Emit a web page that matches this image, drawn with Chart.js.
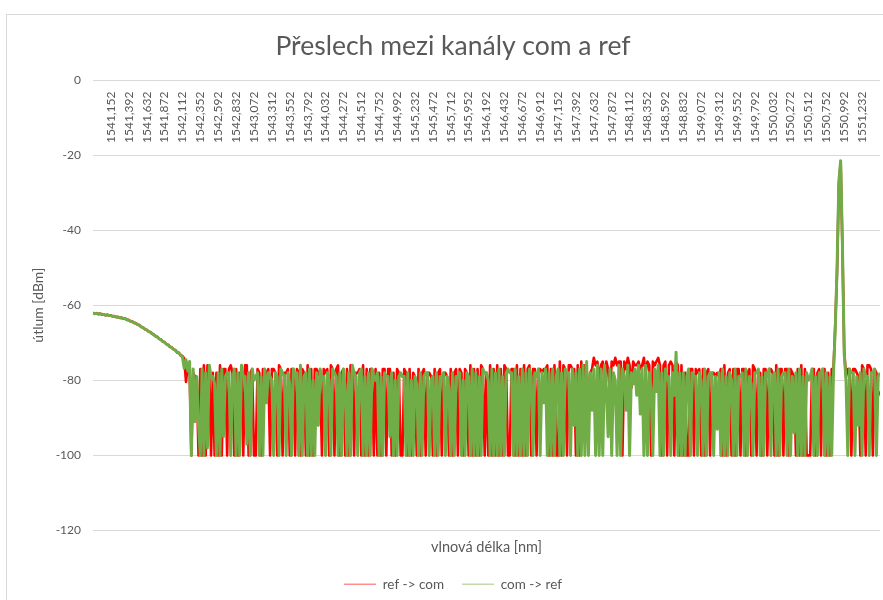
<!DOCTYPE html>
<html>
<head>
<meta charset="utf-8">
<script src="https://cdn.jsdelivr.net/npm/chart.js@4.4.0/dist/chart.umd.min.js"></script>
<style>
html, body { margin: 0; padding: 0; background: #ffffff; overflow: hidden; width: 883px; height: 600px; }
#frame { position: absolute; left: 6px; top: 14px; width: 940px; height: 700px; border: 1px solid #d9d9d9; box-sizing: border-box; }
#c { position: absolute; left: 0; top: 0; }
</style>
</head>
<body>
<div id="frame"></div>
<canvas id="c" width="906" height="601"></canvas>
<script>
// ---- data ----
const WAVELENGTH_START = 1540.912;   // nm, first sample
const WAVELENGTH_STEP = 0.024;       // nm between samples

const TICK_LABELS = [
  "1541,152","1541,392","1541,632","1541,872","1542,112","1542,352","1542,592","1542,832",
  "1543,072","1543,312","1543,552","1543,792","1544,032","1544,272","1544,512","1544,752",
  "1544,992","1545,232","1545,472","1545,712","1545,952","1546,192","1546,432","1546,672",
  "1546,912","1547,152","1547,392","1547,632","1547,872","1548,112","1548,352","1548,592",
  "1548,832","1549,072","1549,312","1549,552","1549,792","1550,032","1550,272","1550,512",
  "1550,752","1550,992","1551,232"
];

const SERIES_NAMES = ["ref -> com", "com -> ref"];

const refToCom = [
  -62.0,-62.3,-62.1,-62.4,-62.2,-62.5,-62.4,-62.7,-62.5,-62.8,
  -62.7,-63.0,-62.9,-63.2,-63.1,-63.4,-63.3,-63.6,-63.5,-63.9,
  -63.9,-64.3,-64.3,-64.7,-64.8,-65.2,-65.3,-65.8,-65.9,-66.4,
  -66.5,-67.0,-67.1,-67.6,-67.8,-68.3,-68.4,-69.0,-69.1,-69.7,
  -69.8,-70.4,-70.5,-71.1,-71.2,-71.8,-71.9,-72.6,-72.6,-73.4,
  -73.5,-74.2,-80.4,-76.0,-77,-100,-78,-79,-80,-100,
  -77,-100,-76,-100,-76,-77,-100,-78,-100,-78,
  -100,-76,-100,-77,-77,-100,-77,-76,-78,-100,
  -77,-100,-78,-78,-100,-76,-76,-100,-78,-77,
  -100,-100,-77,-78,-100,-77,-79,-78,-77,-100,
  -77,-77,-78,-100,-76,-77,-100,-78,-78,-77,
  -100,-77,-77,-100,-77,-78,-100,-77,-78,-100,
  -76,-100,-77,-100,-77,-77,-78,-79,-100,-77,
  -78,-77,-100,-76,-77,-100,-77,-76,-100,-78,
  -77,-100,-77,-100,-76,-77,-100,-78,-78,-77,
  -100,-76,-100,-77,-100,-77,-77,-100,-77,-100,
  -78,-100,-77,-77,-100,-77,-77,-100,-78,-100,
  -77,-78,-100,-100,-77,-78,-100,-77,-100,-78,
  -79,-100,-77,-100,-78,-77,-100,-78,-78,-79,
  -100,-77,-100,-78,-77,-100,-78,-78,-79,-100,
  -77,-100,-78,-77,-100,-77,-78,-100,-77,-78,
  -100,-76,-100,-77,-100,-77,-100,-76,-77,-100,
  -78,-100,-76,-100,-77,-100,-76,-100,-77,-100,
  -76,-77,-100,-100,-77,-77,-100,-76,-100,-77,
  -100,-76,-100,-77,-76,-100,-77,-77,-100,-77,
  -77,-78,-77,-77,-76,-100,-77,-100,-76,-100,
  -100,-75,-100,-76,-77,-100,-76,-76,-77,-77,
  -100,-76,-100,-75,-90,-76,-77,-88,-78,-77,
  -74,-76,-75,-80,-76,-75,-81,-75,-77,-84,
  -75,-76,-74,-76,-75,-75,-100,-75,-77,-74,
  -76,-82,-75,-76,-76,-75,-77,-76,-74,-78,
  -75,-76,-100,-75,-76,-75,-74,-76,-100,-76,
  -75,-100,-76,-75,-76,-100,-75,-76,-100,-76,
  -100,-78,-100,-100,-77,-77,-100,-77,-78,-77,
  -100,-77,-100,-78,-77,-100,-78,-78,-79,-78,
  -79,-77,-100,-76,-100,-78,-77,-100,-77,-100,
  -77,-77,-100,-77,-77,-100,-78,-77,-100,-76,
  -77,-100,-78,-78,-100,-77,-77,-100,-77,-77,
  -78,-100,-76,-100,-77,-77,-100,-77,-77,-100,
  -77,-78,-79,-100,-77,-100,-76,-100,-77,-100,
  -100,-100,-77,-77,-100,-78,-77,-100,-77,-77,
  -100,-78,-100,-77,-77,-65,-51,-28,-21.8,-45,
  -72,-79,-77,-77,-100,-77,-77,-78,-79,-100,
  -76,-77,-100,-76,-76,-77,-100,-77,-78,-84,
  -83
];

const comToRef = [
  -62.1,-62.2,-62.2,-62.3,-62.3,-62.4,-62.5,-62.6,-62.6,-62.7,
  -62.8,-62.9,-63.0,-63.1,-63.2,-63.3,-63.4,-63.5,-63.6,-63.8,
  -64.0,-64.2,-64.4,-64.6,-64.9,-65.1,-65.4,-65.7,-66.0,-66.3,
  -66.6,-66.9,-67.2,-67.5,-67.9,-68.2,-68.5,-68.9,-69.2,-69.6,
  -69.9,-70.3,-70.6,-71.0,-71.3,-71.7,-72.0,-72.4,-72.8,-73.2,
  -73.8,-76.8,-74.5,-77.5,-75,-100,-77,-91,-79,-92,
  -100,-77,-100,-78,-98,-76,-79,-79,-81,-100,
  -78,-100,-77,-95,-79,-78,-78,-100,-80,-77,
  -100,-78,-100,-76,-79,-79,-97,-78,-100,-77,
  -80,-79,-78,-100,-79,-100,-77,-86,-78,-79,
  -80,-100,-78,-79,-100,-77,-78,-79,-100,-78,
  -81,-100,-77,-79,-78,-100,-76,-100,-79,-78,
  -100,-77,-100,-80,-100,-78,-92,-77,-80,-79,
  -100,-78,-80,-100,-77,-78,-79,-100,-78,-100,
  -77,-82,-100,-78,-100,-76,-78,-79,-100,-78,
  -77,-100,-79,-100,-78,-100,-77,-79,-80,-78,
  -100,-79,-100,-78,-79,-79,-95,-78,-100,-80,
  -100,-79,-78,-79,-79,-100,-78,-100,-80,-100,
  -79,-81,-100,-78,-100,-79,-78,-78,-100,-80,
  -79,-100,-78,-100,-79,-79,-78,-100,-79,-82,
  -100,-78,-100,-79,-79,-78,-100,-80,-100,-78,
  -79,-100,-77,-100,-78,-100,-79,-100,-77,-78,
  -78,-80,-100,-77,-100,-78,-100,-77,-100,-79,
  -100,-78,-77,-78,-78,-100,-77,-100,-79,-100,
  -77,-100,-78,-100,-77,-79,-100,-78,-79,-77,
  -100,-78,-86,-77,-100,-78,-100,-77,-100,-79,
  -77,-100,-78,-100,-77,-78,-78,-100,-77,-92,
  -78,-100,-77,-100,-76,-100,-75,-100,-78,-88,
  -77,-100,-76,-100,-77,-100,-76,-82,-95,-77,
  -100,-78,-80,-100,-76,-100,-77,-79,-88,-76,
  -100,-78,-81,-77,-84,-76,-89,-77,-100,-76,
  -100,-78,-82,-100,-77,-83,-76,-100,-78,-100,
  -77,-80,-79,-100,-78,-84,-72.5,-100,-78,-100,
  -78,-100,-79,-77,-100,-78,-79,-79,-100,-78,
  -80,-100,-77,-100,-79,-78,-78,-100,-79,-93,
  -78,-100,-77,-100,-79,-100,-78,-80,-100,-77,
  -100,-79,-79,-78,-100,-77,-100,-79,-81,-100,
  -78,-78,-77,-100,-79,-100,-78,-79,-77,-100,
  -79,-78,-100,-77,-100,-79,-78,-78,-100,-77,
  -100,-79,-94,-78,-100,-77,-100,-79,-100,-78,
  -80,-79,-77,-100,-79,-100,-78,-78,-77,-100,
  -78,-100,-79,-100,-78,-66,-50,-27,-21.5,-44,
  -73,-80,-100,-77,-78,-78,-100,-79,-92,-78,
  -100,-77,-79,-79,-100,-78,-78,-77,-100,-79,
  -78
];

// ---- chart ----
const WL_MIN = WAVELENGTH_START;
const WL_MAX = WAVELENGTH_START + (comToRef.length - 1) * WAVELENGTH_STEP;
const TICK_VALUES = TICK_LABELS.map(s => parseFloat(s.replace(',', '.')));
const toPoints = vals => vals.map((v, i) => ({ x: WAVELENGTH_START + i * WAVELENGTH_STEP, y: v }));

const RED = '#ff0000';
const GREEN = '#70ad47';
const TEXT = '#595959';
const FONT = 'Lato, "Open Sans", "Liberation Sans", sans-serif';
Chart.defaults.font.family = FONT;
Chart.defaults.color = TEXT;

const noPad = s => { s.paddingLeft = 0; s.paddingRight = 0; };

new Chart(document.getElementById('c'), {
  type: 'line',
  data: {
    datasets: [
      { label: SERIES_NAMES[0], data: toPoints(refToCom), borderColor: RED, backgroundColor: RED,
        borderWidth: 2.6, borderJoinStyle: 'round', pointRadius: 0, tension: 0, order: 1, xAxisID: 'x', yAxisID: 'y' },
      { label: SERIES_NAMES[1], data: toPoints(comToRef), borderColor: GREEN, backgroundColor: GREEN,
        borderWidth: 3, borderJoinStyle: 'round', pointRadius: 0, tension: 0, order: 0, xAxisID: 'x', yAxisID: 'y' }
    ]
  },
  options: {
    responsive: false,
    animation: false,
    events: [],
    layout: { padding: { left: 26, right: 26, top: 0, bottom: 0 } },
    plugins: {
      tooltip: { enabled: false },
      title: {
        display: true,
        text: 'Přeslech mezi kanály com a ref',
        color: TEXT,
        font: { family: FONT, size: 26.5, weight: 'normal', lineHeight: 1.2 },
        padding: { top: 30.1, bottom: 18.1 }
      },
      legend: {
        position: 'bottom',
        labels: {
          usePointStyle: true,
          pointStyle: 'line',
          pointStyleWidth: 32,
          padding: 18,
          color: TEXT,
          font: { family: FONT, size: 13.5 },
          sort: (a, b) => a.datasetIndex - b.datasetIndex,
          generateLabels: chart => chart.data.datasets.map((ds, i) => ({
            text: ds.label,
            fillStyle: ds.borderColor,
            strokeStyle: i === 0 ? 'rgba(255,0,0,0.45)' : 'rgba(112,173,71,0.45)',
            lineWidth: 1.5,
            pointStyle: 'line',
            hidden: false,
            datasetIndex: i,
            fontColor: TEXT
          }))
        }
      }
    },
    scales: {
      x: {
        type: 'linear',
        position: 'top',
        min: WL_MIN,
        max: WL_MAX,
        afterBuildTicks: s => { s.ticks = TICK_VALUES.map(v => ({ value: v })); },
        afterFit: s => { s.height = 0; noPad(s); },
        ticks: {
          autoSkip: false,
          minRotation: 90,
          maxRotation: 90,
          mirror: true,
          padding: 63,
          color: TEXT,
          font: { family: FONT, size: 12 },
          callback: (v, i) => TICK_LABELS[i]
        },
        grid: { display: false, drawTicks: false },
        border: { display: false }
      },
      xb: {
        type: 'linear',
        position: 'bottom',
        min: WL_MIN,
        max: WL_MAX,
        afterFit: s => { s.height = 29; noPad(s); },
        ticks: { display: false },
        grid: { display: false, drawTicks: false },
        border: { display: false },
        title: {
          display: true,
          text: 'vlnová délka [nm]',
          color: TEXT,
          font: { family: FONT, size: 14.5 },
          padding: { top: 8.3, bottom: 3.3 }
        }
      },
      y: {
        position: 'left',
        min: -120,
        max: 0,
        afterFit: s => { s.width = 67; },
        ticks: { stepSize: 20, padding: 12, color: TEXT, font: { family: FONT, size: 12 } },
        grid: { color: '#d9d9d9', lineWidth: 1, drawTicks: false },
        border: { display: false },
        title: {
          display: true,
          text: 'útlum [dBm]',
          color: TEXT,
          font: { family: FONT, size: 14 },
          padding: { top: 3.6, bottom: 0 }
        }
      }
    }
  }
});
</script>
</body>
</html>
